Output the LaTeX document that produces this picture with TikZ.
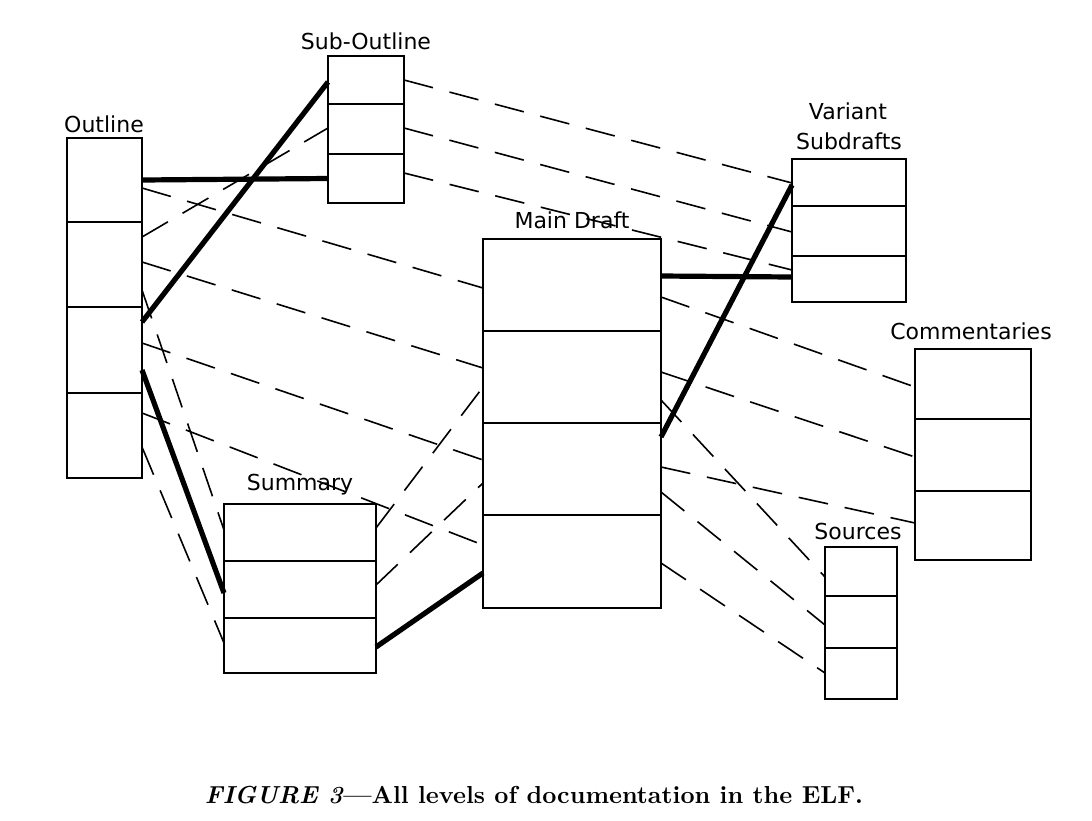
\documentclass[tikz,border=0pt]{standalone}
\usepackage{fontspec}
\usepackage{graphicx}
\usetikzlibrary{calc,fit}
\newfontfamily\lblfont{DejaVu Sans}
\begin{document}
\begin{tikzpicture}[x=0.5pt,y=-0.5pt,
  cellbox/.style={draw,line width=0.8pt,inner sep=0pt,outer sep=0pt,rectangle},
  dline/.style={line width=0.8pt,dash pattern=on 15pt off 8.5pt},
  tline/.style={line width=2.6pt},
  lbl/.style={font=\lblfont\fontsize{11pt}{13pt}\selectfont,inner sep=0pt,anchor=base}]
\useasboundingbox (0,0) rectangle (1092,820);
% Outline
\node (o1) [cellbox,fit={(67,138)(142,222)}] {};
\node (o2) [cellbox,fit={(67,222)(142,307)}] {};
\node (o3) [cellbox,fit={(67,307)(142,393)}] {};
\node (o4) [cellbox,fit={(67,393)(142,478)}] {};
% Sub-Outline
\node (s1) [cellbox,fit={(328,56)(404,104)}] {};
\node (s2) [cellbox,fit={(328,104)(404,154)}] {};
\node (s3) [cellbox,fit={(328,154)(404,203)}] {};
% Main Draft
\node (md1) [cellbox,fit={(483,239)(661,331)}] {};
\node (md2) [cellbox,fit={(483,331)(661,423)}] {};
\node (md3) [cellbox,fit={(483,423)(661,515)}] {};
\node (md4) [cellbox,fit={(483,515)(661,608)}] {};
% Variant Subdrafts
\node (v1) [cellbox,fit={(792,159)(906,206)}] {};
\node (v2) [cellbox,fit={(792,206)(906,256)}] {};
\node (v3) [cellbox,fit={(792,256)(906,302)}] {};
% Commentaries
\node (c1) [cellbox,fit={(915,349)(1031,419)}] {};
\node (c2) [cellbox,fit={(915,419)(1031,491)}] {};
\node (c3) [cellbox,fit={(915,491)(1031,560)}] {};
% Sources
\node (src1) [cellbox,fit={(825,547)(897,596)}] {};
\node (src2) [cellbox,fit={(825,596)(897,648)}] {};
\node (src3) [cellbox,fit={(825,648)(897,699)}] {};
% Summary
\node (sm1) [cellbox,fit={(224,504)(376,561)}] {};
\node (sm2) [cellbox,fit={(224,561)(376,618)}] {};
\node (sm3) [cellbox,fit={(224,618)(376,673)}] {};
% labels
\node (lo) [lbl] at (104,132) {Outline};
\node (ls) [lbl] at (366,49) {Sub-Outline};
\node (lm) [lbl] at (572,228) {Main Draft};
\node (lv1) [lbl] at (848,119) {Variant};
\node (lv2) [lbl] at (849,149) {Subdrafts};
\node (lc) [lbl] at (971,339) {Commentaries};
\node (lsm) [lbl] at (300,490) {Summary};
\node (lsr) [lbl] at (858,539) {Sources};
% thick connectors
\draw[tline] (o1.east) -- (s3.west);
\draw[tline] ($(o3.east)+(0,-28)$) -- ($(s1.west)+(0,2)$);
\draw[tline] ($(o3.east)+(0,20)$) -- ($(sm2.west)+(0,3.5)$);
\draw[tline] ($(sm3.east)+(0,1.5)$) -- ($(md4.west)+(0,11.5)$);
\draw[tline] ($(md1.east)+(0,-9)$) -- ($(v3.west)+(0,-2)$);
\draw[tline] ($(md3.east)+(0,-32)$) -- ($(v1.west)+(0,2.5)$);
% dashed connectors
\draw[dline] ($(o1.east)+(0,8)$) -- ($(md1.west)+(0,3)$);
\draw[dline] ($(o2.east)+(0,-27.5)$) -- ($(s2.west)+(0,-1)$);
\draw[dline] ($(o2.east)+(0,-2.5)$) -- ($(md2.west)+(0,-9)$);
\draw[dline] ($(o2.east)+(0,25.5)$) -- ($(sm1.west)+(0,-2.5)$);
\draw[dline] ($(o3.east)+(0,-7)$) -- ($(md3.west)+(0,-9)$);
\draw[dline] ($(o4.east)+(0,-22.5)$) -- ($(md4.west)+(0,-16.5)$);
\draw[dline] ($(o4.east)+(0,11.5)$) -- ($(sm3.west)+(0,-2.5)$);
\draw[dline] (s1.east) -- ($(v1.west)+(0,0.5)$);
\draw[dline] ($(s2.east)+(0,-1)$) -- ($(v2.west)+(0,1)$);
\draw[dline] ($(s3.east)+(0,-5.5)$) -- ($(v3.west)+(0,-9)$);
\draw[dline] ($(sm1.east)+(0,-4.5)$) -- ($(md2.west)+(0,10)$);
\draw[dline] ($(sm2.east)+(0,-4.5)$) -- ($(md3.west)+(0,14)$);
\draw[dline] ($(md1.east)+(0,12)$) -- ($(c1.west)+(0,3)$);
\draw[dline] ($(md2.east)+(0,-5)$) -- ($(c2.west)+(0,2)$);
\draw[dline] ($(md2.east)+(0,23)$) -- ($(src1.west)+(0,5.5)$);
\draw[dline] ($(md3.east)+(0,-2)$) -- ($(c3.west)+(0,-2.5)$);
\draw[dline] ($(md3.east)+(0,23)$) -- ($(src2.west)+(0,3)$);
\draw[dline] ($(md4.east)+(0,1.5)$) -- ($(src3.west)+(0,-0.5)$);
% caption
\node (cap) [inner sep=0pt] at (534,795) {\resizebox{329pt}{!}{\bfseries\textit{FIGURE 3}---All levels of documentation in the ELF.}};
\end{tikzpicture}
\end{document}
